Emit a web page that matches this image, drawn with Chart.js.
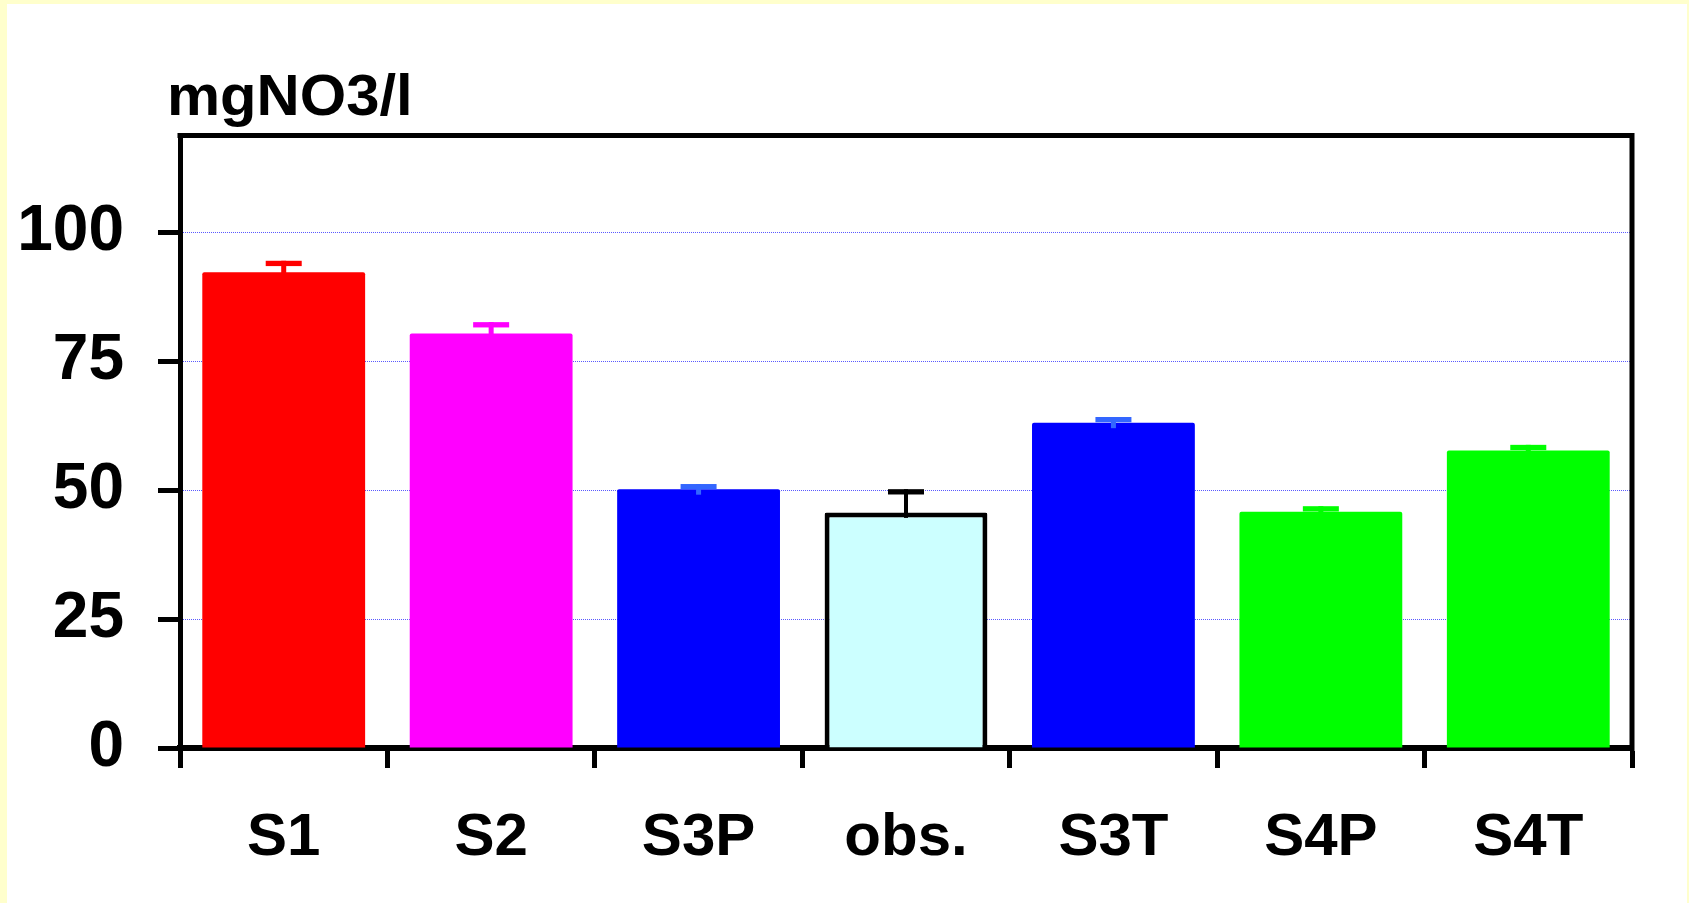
<!DOCTYPE html>
<html>
<head>
<meta charset="utf-8">
<script src="https://cdn.jsdelivr.net/npm/chart.js@4.4.1/dist/chart.umd.min.js"></script>
<style>
  html, body { margin: 0; padding: 0; background: #FFFFCC; width: 1689px; height: 903px; overflow: hidden; }
  #panel { position: absolute; left: 7px; top: 4px; width: 1680px; height: 899px; background: #FFFFFF; }
  canvas { display: block; }
</style>
</head>
<body>
<div id="panel"><canvas id="chart" width="1680" height="899"></canvas></div>
<script>
// Nitrate concentration per scenario (mg NO3 per litre) with error values
const categories = ['S1', 'S2', 'S3P', 'obs.', 'S3T', 'S4P', 'S4T'];
const nitrate    = [92.3, 80.4, 50.2, 45.7, 63.1, 45.8, 57.7];
const nitrateErr = [2.2, 2.2, 1.0, 4.5, 1.1, 1.1, 1.1];
const yTickValues = [0, 25, 50, 75, 100];
const yMax = 118.8;
const unitLabel = 'mgNO3/l';

const barFill   = ['#FF0000', '#FF00FF', '#0000FF', '#CCFFFF', '#0000FF', '#00FF00', '#00FF00'];
const barEdge   = ['#FF0000', '#FF00FF', '#0000FF', '#000000', '#0000FF', '#00FF00', '#00FF00'];
const barEdgeW  = [0, 0, 0, 5, 0, 0, 0];
const errColors = ['#FF0000', '#FF00FF', '#3366FF', '#000000', '#3366FF', '#00FF00', '#00FF00'];

const FONT = '"Liberation Sans", Arial, Helvetica, sans-serif';

// Upper error bars: a stem from the bar top and a flat cap at value + error
const errorBars = {
  id: 'errorBars',
  afterDatasetsDraw(chart) {
    const { ctx, scales: { y } } = chart;
    const meta = chart.getDatasetMeta(0);
    meta.data.forEach((bar, i) => {
      const yTop = y.getPixelForValue(nitrate[i] + nitrateErr[i]);
      const yBar = y.getPixelForValue(nitrate[i]);
      const stemW = i === 3 ? 4 : 5;
      ctx.save();
      ctx.fillStyle = errColors[i];
      ctx.fillRect(bar.x - stemW / 2, yTop, stemW, yBar - yTop + 5.5);
      ctx.fillRect(bar.x - 18, yTop, 36, 5.3);
      ctx.restore();
    });
  }
};

// Closes the plot box along the top and right sides
const plotFrame = {
  id: 'plotFrame',
  afterDraw(chart) {
    const { ctx, chartArea: a } = chart;
    ctx.save();
    ctx.strokeStyle = '#000';
    ctx.lineWidth = 5;
    ctx.beginPath();
    ctx.moveTo(a.left - 2.5, a.top);
    ctx.lineTo(a.right, a.top);
    ctx.lineTo(a.right, a.bottom + 3);
    ctx.stroke();
    ctx.restore();
  }
};

// Unit caption above the value axis
const unitCaption = {
  id: 'unitCaption',
  afterDraw(chart) {
    const ctx = chart.ctx;
    ctx.save();
    ctx.font = 'bold 58px ' + FONT;
    ctx.fillStyle = '#000';
    ctx.textBaseline = 'alphabetic';
    ctx.translate(160, 111);
    ctx.scale(1.03, 1);
    ctx.fillText(unitLabel, 0, 0);
    ctx.restore();
  }
};

new Chart(document.getElementById('chart'), {
  type: 'bar',
  data: {
    labels: categories,
    datasets: [{
      data: nitrate,
      backgroundColor: barFill,
      borderColor: barEdge,
      borderWidth: barEdgeW,
      borderRadius: 2,
      barPercentage: 0.785,
      categoryPercentage: 1
    }]
  },
  options: {
    responsive: false,
    animation: false,
    devicePixelRatio: 1,
    layout: { padding: { left: 0, right: 55, top: 131.5, bottom: 0 } },
    plugins: { legend: { display: false }, tooltip: { enabled: false }, title: { display: false } },
    scales: {
      x: {
        z: 1,
        grid: { drawOnChartArea: false, offset: true, tickLength: 20, tickWidth: 5, tickColor: '#000', color: '#000' },
        border: { display: true, color: '#000', width: 6 },
        ticks: { font: { family: FONT, size: 60, weight: 'bold' }, color: '#000', padding: 34, maxRotation: 0, autoSkip: false },
        afterFit(s) { s.height = 155; }
      },
      y: {
        min: 0,
        max: yMax,
        afterBuildTicks(s) { s.ticks = yTickValues.map(v => ({ value: v })); },
        grid: { color: '#5A5AFF', lineWidth: 1, tickLength: 22, tickWidth: 5, tickColor: '#000', tickBorderDash: [] },
        border: { display: true, color: '#000', width: 5, dash: [1, 1] },
        ticks: { font: { family: FONT, size: 64, weight: 'bold' }, color: '#000', padding: 34 },
        afterFit(s) { s.width = 173; }
      }
    }
  },
  plugins: [errorBars, plotFrame, unitCaption]
});
</script>
</body>
</html>
